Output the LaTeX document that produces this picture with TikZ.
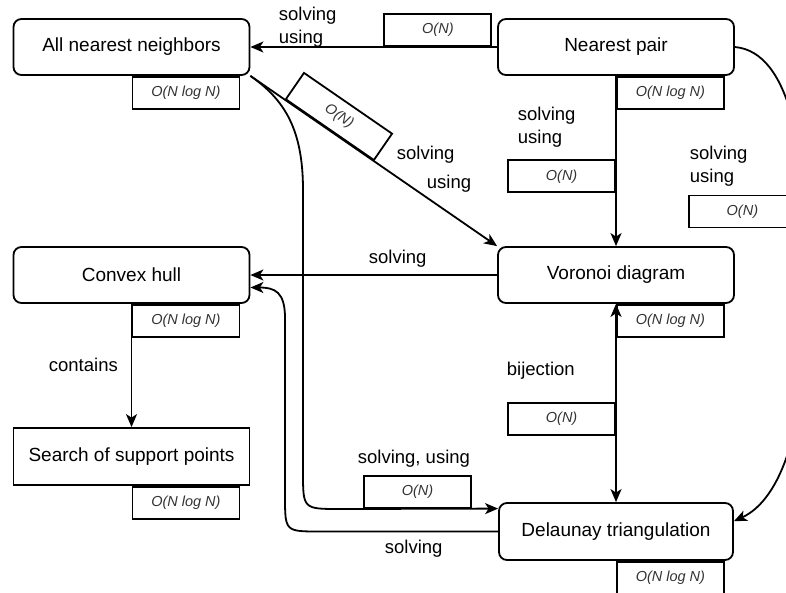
\documentclass[tikz,border=0pt]{standalone}
\usepackage{fontspec}
\setmainfont{Liberation Sans}
\usetikzlibrary{arrows.meta}

\begin{document}
\begin{tikzpicture}[x=1pt, y=-1pt, line width=1.8pt,
  >={Stealth[length=13pt, width=11pt, inset=3.5pt]},
  task/.style={draw, rounded corners=8pt, minimum width=236pt, minimum height=56pt,
    inner sep=0pt, font=\fontsize{19}{22}\selectfont},
  cost/.style={draw, minimum width=107pt, minimum height=32pt, inner sep=0pt,
    font=\fontsize{14.5}{16}\selectfont\itshape, text=black!80},
  lbl/.style={inner sep=0pt, font=\fontsize{18.5}{23}\selectfont},
  lbltwo/.style={lbl, align=left, anchor=north west}]
\useasboundingbox (0,0) rectangle (786,592);
\clip (0,0) rectangle (786,592);

\node[task] (anb) at (131.5,47) {All nearest neighbors};
\node[task] (pair) at (616,47) {Nearest pair};
\node[task] (hull) at (131.5,275) {Convex hull};
\node[task] (vor) at (616,275) {Voronoi diagram};
\node[task, sharp corners, minimum height=57pt] (supp) at (131.5,456.5) {Search of support points};
\node[task, minimum height=57pt, minimum width=234pt] (del) at (616,531.5) {Delaunay triangulation};

\node[cost, anchor=north west] (anbc) at (anb.south) {O(N log N)};
\node[cost, anchor=north west] (pairc) at (pair.south) {O(N log N)};
\node[cost, anchor=north west] (hullc) at (hull.south) {O(N log N)};
\node[cost, anchor=north west] (vorc) at (vor.south) {O(N log N)};
\node[cost, anchor=north west] (suppc) at (supp.south) {O(N log N)};
\node[cost, anchor=north west] (delc) at (del.south) {O(N log N)};
\node[cost, anchor=west] (e3) at (688,211.5) {O(N)};

\draw[->] (pair) -- node[cost, anchor=south, pos=0.24] (e1) {O(N)} (anb);
\draw[->] (pair) -- node[cost, anchor=east, pos=0.59] (e2) {O(N)} (vor);
\draw[->] (pair.east) .. controls (790,52) and (808,150) .. (808,285)
  .. controls (808,430) and (780,500) .. (del.5);
\draw[->] (anb.south east) -- node[cost, sloped, anchor=south, pos=0.32] (e4) {O(N)} (vor.north west);
\draw[->] (anb.south east) .. controls (285,100) and (303,130) .. (303,190) -- (303,472)
  .. controls (303,509) .. (340,509) -- node[cost, anchor=south, pos=0.49] (e5) {O(N)} (del.169);
\draw[<->] (vor) -- node[cost, anchor=east, pos=0.58] (e6) {O(N)} (del);
\draw[->] (vor) -- (hull);
\draw[->] (del.west) -- (320,531.5) .. controls (285,531.5) .. (285,496) -- (285,318)
  .. controls (285,292) and (275,287.5) .. (hull.-6);
\draw[->] (hull) -- (supp);

\node[lbltwo] (l1) at (278,5.8) {solving\\using};
\node[lbltwo] (l2) at (517,105.8) {solving\\using};
\node[lbltwo] (l3) at (689,144.8) {solving\\using};
\node[lbltwo] (l4) at (396,144.8) {solving\\[6pt]\hspace*{30pt}using};
\node[lbl, anchor=base west] (l5) at (368,263) {solving};
\node[lbl, anchor=base west] (l6) at (506,375.5) {bijection};
\node[lbl, anchor=base west] (l7) at (48,371.5) {contains};
\node[lbl, anchor=base west] (l8) at (357,463) {solving, using};
\node[lbl, anchor=base west] (l9) at (384,553) {solving};
\end{tikzpicture}
\end{document}
